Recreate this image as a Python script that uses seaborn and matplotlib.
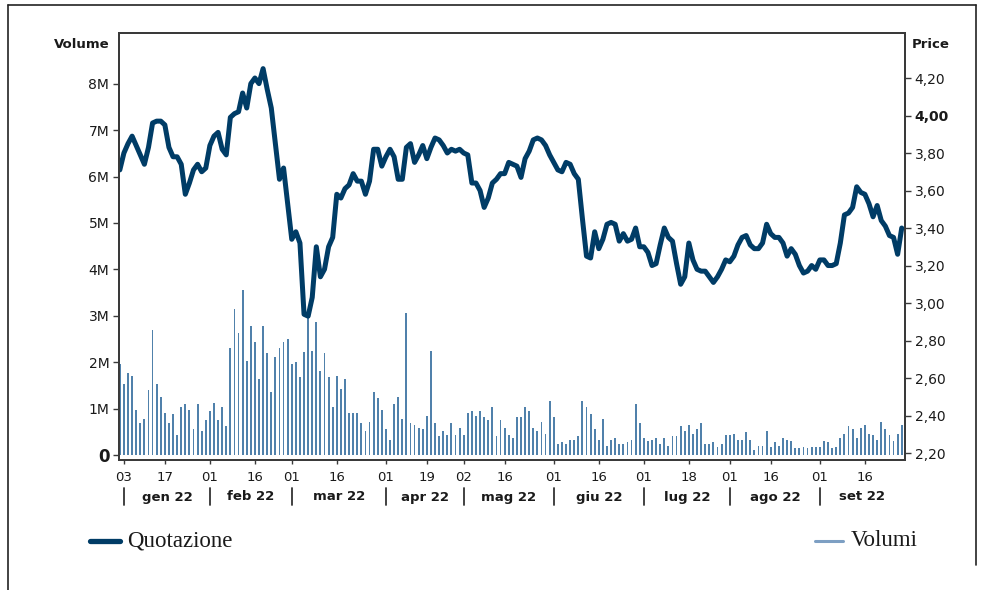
import numpy as np
import pandas as pd
import matplotlib
matplotlib.use("Agg")
import matplotlib.pyplot as plt
import matplotlib.transforms as mtransforms
from matplotlib.lines import Line2D
import seaborn as sns

# ---------------- data ----------------
holidays = ["2022-04-15", "2022-04-18", "2022-08-15"]
trading_days = pd.DatetimeIndex(["2021-12-31"]).append(
    pd.bdate_range("2022-01-03", "2022-09-29", freq="C", holidays=holidays))

price = [
    3.71, 3.80, 3.85, 3.89, 3.84, 3.79, 3.74, 3.83, 3.96, 3.97, 3.97, 3.95, 3.83, 3.78, 3.78, 3.74,
    3.58, 3.64, 3.71, 3.74, 3.70, 3.72, 3.84, 3.89, 3.91, 3.82, 3.79, 3.99, 4.01, 4.02, 4.12, 4.04,
    4.17, 4.20, 4.17, 4.25, 4.14, 4.04, 3.85, 3.66, 3.72, 3.53, 3.34, 3.38, 3.32, 2.94, 2.93, 3.03,
    3.30, 3.14, 3.18, 3.30, 3.35, 3.58, 3.56, 3.61, 3.63, 3.69, 3.65, 3.65, 3.58, 3.65, 3.82, 3.82,
    3.73, 3.78, 3.82, 3.78, 3.66, 3.66, 3.83, 3.85, 3.75, 3.79, 3.84, 3.77, 3.83, 3.88, 3.87, 3.84,
    3.80, 3.82, 3.81, 3.82, 3.80, 3.79, 3.64, 3.64, 3.60, 3.51, 3.56, 3.64, 3.66, 3.69, 3.69, 3.75,
    3.74, 3.73, 3.67, 3.77, 3.81, 3.87, 3.88, 3.87, 3.84, 3.79, 3.75, 3.71, 3.70, 3.75, 3.74, 3.69,
    3.66, 3.45, 3.25, 3.24, 3.38, 3.29, 3.34, 3.42, 3.43, 3.42, 3.33, 3.37, 3.33, 3.34, 3.40, 3.30,
    3.30, 3.27, 3.20, 3.21, 3.31, 3.40, 3.35, 3.33, 3.21, 3.10, 3.14, 3.32, 3.23, 3.18, 3.17,
    3.17, 3.14, 3.11, 3.14, 3.18, 3.23, 3.22, 3.25, 3.31, 3.35, 3.36, 3.31, 3.29, 3.29, 3.32, 3.42,
    3.37, 3.35, 3.35, 3.32, 3.25, 3.29, 3.26, 3.20, 3.16, 3.17, 3.20, 3.18, 3.23, 3.23, 3.20, 3.20,
    3.21, 3.32, 3.47, 3.48, 3.51, 3.62, 3.59, 3.58, 3.53, 3.46, 3.52, 3.44, 3.41, 3.36, 3.35, 3.26,
    3.40,
]

volume_m = [
    1.97, 1.54, 1.77, 1.70, 0.97, 0.68, 0.78, 1.41, 2.69, 1.54, 1.26, 0.90, 0.68, 0.88, 0.43, 1.03,
    1.09, 0.97, 0.56, 1.09, 0.52, 0.75, 0.94, 1.13, 0.75, 1.03, 0.62, 2.31, 3.15, 2.63, 3.56, 2.03,
    2.77, 2.44, 1.64, 2.77, 2.19, 1.36, 2.12, 2.31, 2.44, 2.50, 1.97, 2.00, 1.68, 2.21, 3.00, 2.25,
    2.86, 1.81, 2.19, 1.68, 1.03, 1.70, 1.42, 1.64, 0.91, 0.91, 0.91, 0.68, 0.52, 0.71, 1.36, 1.23,
    0.97, 0.56, 0.33, 1.10, 1.26, 0.78, 3.07, 0.68, 0.65, 0.59, 0.56, 0.84, 2.25, 0.68, 0.40, 0.52,
    0.43, 0.68, 0.43, 0.59, 0.43, 0.91, 0.94, 0.84, 0.94, 0.81, 0.75, 1.03, 0.40, 0.75, 0.59, 0.43,
    0.37, 0.81, 0.81, 1.03, 0.94, 0.59, 0.52, 0.71, 0.46, 1.16, 0.81, 0.24, 0.27, 0.24, 0.33, 0.33,
    0.40, 1.16, 1.03, 0.88, 0.56, 0.33, 0.78, 0.20, 0.33, 0.37, 0.24, 0.24, 0.27, 0.33, 1.10, 0.68,
    0.37, 0.30, 0.33, 0.37, 0.24, 0.37, 0.20, 0.40, 0.40, 0.62, 0.52, 0.65, 0.46, 0.56, 0.70, 0.24,
    0.24, 0.27, 0.17, 0.24, 0.43, 0.43, 0.46, 0.33, 0.33, 0.49, 0.33, 0.11, 0.20, 0.20, 0.52, 0.17,
    0.27, 0.20, 0.37, 0.33, 0.30, 0.14, 0.14, 0.17, 0.14, 0.17, 0.17, 0.17, 0.30, 0.27, 0.14, 0.17,
    0.37, 0.46, 0.62, 0.56, 0.37, 0.59, 0.65, 0.46, 0.43, 0.33, 0.71, 0.56, 0.43, 0.30, 0.46, 0.65,
]

tick_dates = ["2022-01-03", "2022-01-17", "2022-02-01", "2022-02-16", "2022-03-01", "2022-03-16",
              "2022-04-01", "2022-04-19", "2022-05-02", "2022-05-16", "2022-06-01", "2022-06-16",
              "2022-07-01", "2022-07-18", "2022-08-01", "2022-08-16", "2022-09-01", "2022-09-16"]
tick_labels = ["03", "17", "01", "16", "01", "16", "01", "19", "02", "16", "01", "16",
               "01", "18", "01", "16", "01", "16"]
month_labels = ["gen 22", "feb 22", "mar 22", "apr 22", "mag 22", "giu 22", "lug 22", "ago 22", "set 22"]

vol_ticks = [0, 1, 2, 3, 4, 5, 6, 7, 8]
price_ticks = [2.2, 2.4, 2.6, 2.8, 3.0, 3.2, 3.4, 3.6, 3.8, 4.0, 4.2]

# ---------------- style ----------------
sns.set_style("white")
plt.rcParams["font.family"] = ["DejaVu Sans"]

LINE_C = "#003c66"
BAR_C = "#5081ab"
SPINE_C = "#3a3a3a"
TXT_C = "#1a1a1a"

W, H = 986, 590
fig = plt.figure(figsize=(W / 100, H / 100), dpi=100)

def fx(px):
    return px / W

def fy(py):
    return 1 - py / H

L, R, T, B = 119, 905, 33, 460
ax = fig.add_axes([fx(L), fy(B), fx(R) - fx(L), fy(T) - fy(B)])
ax2 = ax.twinx()

n = len(price)
df = pd.DataFrame({"idx": np.arange(n), "date": trading_days[:n],
                   "price": price, "volume": np.array(volume_m) * 1e6})

sns.barplot(data=df, x="idx", y="volume", native_scale=True, width=0.45,
            color=BAR_C, saturation=1, errorbar=None, linewidth=0, ax=ax)
sns.lineplot(data=df, x="idx", y="price", color=LINE_C, linewidth=3.6,
             ax=ax2, solid_joinstyle="round", solid_capstyle="round")

xlim = (-0.2, 191.8)
ax.set_xlim(*xlim)
ax2.set_xlim(*xlim)
ax.set_ylim(-0.108e6, 9.095e6)
ax2.set_ylim(2.163, 4.44)

for a in (ax, ax2):
    a.set_xlabel("")
    a.set_ylabel("")
    for s in a.spines.values():
        s.set_color(SPINE_C)
        s.set_linewidth(1.4)

# left axis ticks
ax.set_yticks([v * 1e6 for v in vol_ticks])
ax.set_yticklabels(["0" if v == 0 else f"{v}M" for v in vol_ticks])
ax.tick_params(axis="y", left=True, direction="out", length=4, width=1,
               color=SPINE_C, labelsize=10, labelcolor=TXT_C, pad=3)
zl = ax.get_yticklabels()[0]
zl.set_fontweight("bold")
zl.set_fontsize(12)

# right axis ticks
ax2.set_yticks(price_ticks)
ax2.set_yticklabels([f"{v:.2f}".replace(".", ",") for v in price_ticks])
ax2.tick_params(axis="y", right=True, direction="out", length=4, width=1,
                color=SPINE_C, labelsize=10, labelcolor=TXT_C, pad=3)
for lab, v in zip(ax2.get_yticklabels(), price_ticks):
    if abs(v - 4.0) < 1e-9:
        lab.set_fontweight("bold")

# x ticks (trading-day index)
tick_pos = trading_days.get_indexer(pd.to_datetime(tick_dates))
ax.set_xticks(tick_pos)
ax.set_xticklabels(tick_labels)
ax.tick_params(axis="x", bottom=True, direction="out", length=3, width=1,
               color=SPINE_C, labelsize=9.5, labelcolor=TXT_C, pad=5)
ax2.tick_params(axis="x", bottom=False, labelbottom=False)

# month row
blend = mtransforms.blended_transform_factory(ax.transData, ax.transAxes)
month_pos = list(tick_pos[0::2])
bounds = month_pos + [xlim[1]]
row_y = (B - 497) / (B - T)
for i, lab in enumerate(month_labels):
    c = (bounds[i] + bounds[i + 1]) / 2
    ax.text(c, row_y, lab, transform=blend, ha="center", va="center",
            fontsize=9.5, fontweight="bold", color=TXT_C)
for p in month_pos:
    ax.add_line(Line2D([p, p], [(B - 488) / (B - T), (B - 505) / (B - T)],
                       transform=blend, color="#333333", lw=1.3, clip_on=False))

# axis titles
fig.text(fx(110), fy(44), "Volume", ha="right", va="center", fontsize=9.5,
         fontweight="bold", color=TXT_C)
fig.text(fx(912), fy(45), "Price", ha="left", va="center", fontsize=9.5,
         fontweight="bold", color=TXT_C)

# legend
fig.add_artist(Line2D([fx(90), fx(120)], [fy(541), fy(541)], color=LINE_C, lw=3.8))
fig.text(fx(127), fy(541), "Quotazione", ha="left", va="center", fontsize=16.5,
         family=["Liberation Serif", "DejaVu Serif"], color=TXT_C)
fig.add_artist(Line2D([fx(815), fx(843)], [fy(541), fy(541)], color="#7d9fc3", lw=2.2))
fig.text(fx(851), fy(541), "Volumi", ha="left", va="center", fontsize=16.5,
         family=["Liberation Serif", "DejaVu Serif"], color=TXT_C)

# outer frame
fig.add_artist(Line2D([fx(8), fx(8)], [fy(590), fy(5)], color="#222222", lw=1.2))
fig.add_artist(Line2D([fx(8), fx(976)], [fy(5), fy(5)], color="#222222", lw=1.2))
fig.add_artist(Line2D([fx(976), fx(976)], [fy(5), fy(565)], color="#222222", lw=1.2))

fig.savefig("out.png", dpi=100)
